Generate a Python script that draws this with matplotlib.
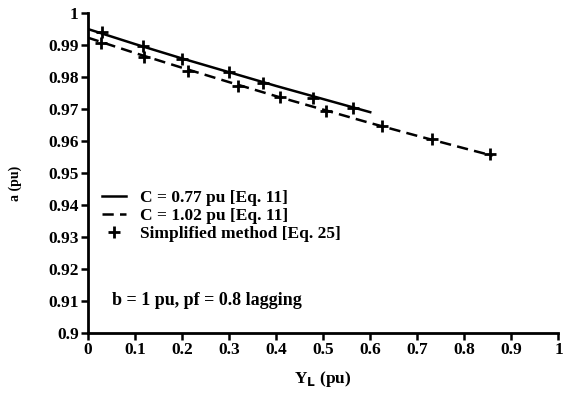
import matplotlib
matplotlib.use("Agg")
import matplotlib.pyplot as plt
from matplotlib.lines import Line2D

# C = 0.77 pu, Eq. 11
yl_c077 = [0.0, 0.1, 0.2, 0.3, 0.4, 0.5, 0.6]
a_c077 = [0.9950, 0.9903, 0.9858, 0.9815, 0.9772, 0.9731, 0.9690]

# C = 1.02 pu, Eq. 11
yl_c102 = [0.0, 0.1, 0.2, 0.3, 0.4, 0.5, 0.6, 0.7, 0.8, 0.86]
a_c102 = [0.9923, 0.9875, 0.9829, 0.9784, 0.9740, 0.9698, 0.9656, 0.9616, 0.9577, 0.9554]

# simplified method, Eq. 25
yl_s1 = [0.030, 0.117, 0.200, 0.299, 0.373, 0.479, 0.564]
a_s1 = [0.9940, 0.9898, 0.9856, 0.9817, 0.9782, 0.9735, 0.9702]
yl_s2 = [0.029, 0.119, 0.213, 0.318, 0.409, 0.507, 0.626, 0.732, 0.854]
a_s2 = [0.9907, 0.9863, 0.9819, 0.9773, 0.9737, 0.9694, 0.9648, 0.9605, 0.9559]

xticks = [0, 0.1, 0.2, 0.3, 0.4, 0.5, 0.6, 0.7, 0.8, 0.9, 1]
yticks = [0.9, 0.91, 0.92, 0.93, 0.94, 0.95, 0.96, 0.97, 0.98, 0.99, 1]

plt.rcParams['font.family'] = ['Liberation Serif', 'DejaVu Serif']
plt.rcParams['font.weight'] = 'bold'

fig = plt.figure(figsize=(5.63, 3.94), dpi=100)
ax = fig.add_axes([0.156, 0.155, 0.836, 0.812])

ax.plot(yl_c077, a_c077, color='black', lw=1.8, ls='-')
ax.plot(yl_c102, a_c102, color='black', lw=1.8, ls=(0, (4.5, 2.5)))
ax.plot(yl_s1, a_s1, ls='none', marker='+', ms=8, mew=2, color='black')
ax.plot(yl_s2, a_s2, ls='none', marker='+', ms=8, mew=2, color='black')

ax.set_xlim(0, 1)
ax.set_ylim(0.9, 1)
ax.set_xticks(xticks)
ax.set_xticklabels([f"{v:g}" for v in xticks])
ax.set_yticks(yticks)
ax.set_yticklabels([f"{v:g}" for v in yticks])
ax.tick_params(direction='out', length=5, width=1.8, labelsize=12.5, pad=1.5)
for s in ['top', 'right']:
    ax.spines[s].set_visible(False)
for s in ['left', 'bottom']:
    ax.spines[s].set_linewidth(2)

ax.set_xlabel(r'Y$_\mathbf{L}$ (pu)', fontsize=12.5, fontweight='bold', labelpad=8)
ax.set_ylabel('a (pu)', fontsize=10, fontweight='bold')
ax.yaxis.set_label_coords(-0.14, 0.466)

handles = [
    Line2D([], [], color='black', lw=1.8),
    Line2D([], [], color='black', lw=1.8, ls=(0, (4.5, 2.5))),
    Line2D([], [], ls='none', marker='+', ms=8, mew=2, color='black'),
]
labels = ['C = 0.77 pu [Eq. 11]', 'C = 1.02 pu [Eq. 11]', 'Simplified method [Eq. 25]']
ax.legend(handles, labels, loc='upper left', bbox_to_anchor=(0.03, 0.447),
          frameon=False, fontsize=12.5, handlelength=1.4, handletextpad=0.8,
          labelspacing=0.1, borderaxespad=0, borderpad=0)

ax.text(0.051, 0.1, 'b = 1 pu, pf = 0.8 lagging', transform=ax.transAxes,
        fontsize=13, fontweight='bold', va='center')

fig.savefig('out.png', dpi=100)
